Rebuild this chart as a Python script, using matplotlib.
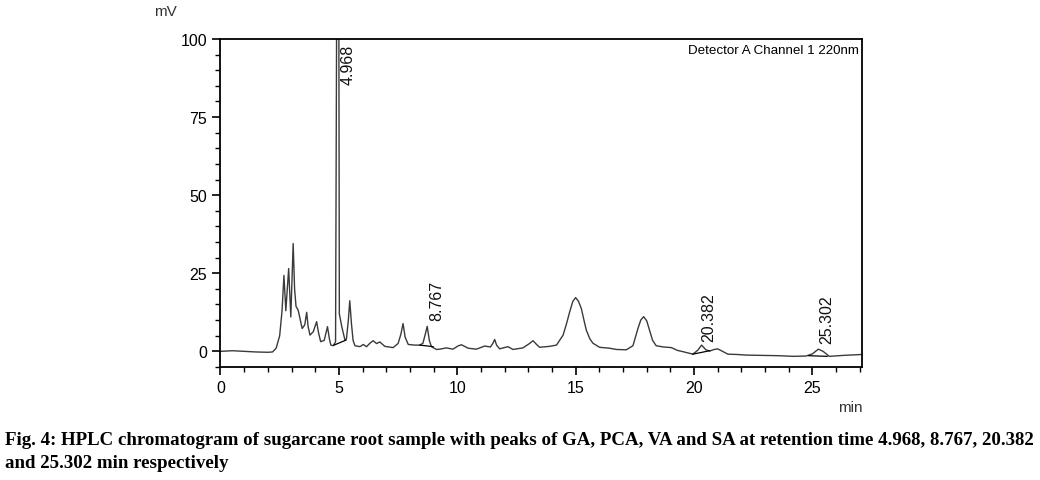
import numpy as np
import matplotlib
matplotlib.use('Agg')
from matplotlib import pyplot as plt
from matplotlib.ticker import MultipleLocator

# trace points (time in min, signal in mV)
time = [0, 0.5, 1.0, 1.5, 2.0, 2.2, 2.35, 2.5, 2.6, 2.68, 2.76, 2.88, 2.97, 3.07, 3.13, 3.19,
        3.28, 3.45, 3.56, 3.64, 3.70, 3.78, 3.92, 4.06, 4.14, 4.23, 4.38, 4.52, 4.60, 4.66,
        4.76, 4.86, 4.968, 5.02, 5.12, 5.26, 5.32, 5.40, 5.46, 5.53, 5.60, 5.68, 5.89, 6.03,
        6.17, 6.31, 6.45, 6.59, 6.73, 6.94, 7.29, 7.50, 7.62, 7.71, 7.80, 7.93, 8.20, 8.42,
        8.55, 8.65, 8.73, 8.82, 8.91, 9.12, 9.26, 9.54, 9.82, 10.05, 10.18, 10.46, 10.81,
        11.16, 11.40, 11.50, 11.58, 11.66, 11.79, 12.14, 12.35, 12.77, 13.05, 13.20, 13.35,
        13.48, 13.90, 14.19, 14.47, 14.62, 14.75, 14.88, 15.0, 15.12, 15.24, 15.35, 15.45,
        15.60, 15.73, 16.01, 16.43, 16.72, 17.14, 17.42, 17.63, 17.75, 17.87, 18.0, 18.12,
        18.25, 18.40, 18.70, 19.04, 19.30, 19.53, 19.95, 20.15, 20.32, 20.50, 20.66, 20.85,
        21.0, 21.2, 21.43, 21.8, 22.2, 22.9, 23.6, 24.2, 24.73, 25.0, 25.25, 25.45, 25.71,
        26.3, 27.1]
signal = [0.0, 0.2, 0.0, -0.2, -0.3, -0.2, 1.0, 5.0, 13, 24.3, 13, 26.5, 11, 34.5, 20, 14.4,
          13.2, 7.3, 8.5, 12.5, 8, 5.2, 6.3, 9.5, 6, 3.1, 3.5, 7.9, 4, 2.0,
          1.8, 3.0, 250, 12, 8, 3.5, 4.0, 10, 16.2, 9, 3.5, 1.8, 1.5, 2.2,
          1.5, 2.6, 3.4, 2.5, 3.0, 1.6, 1.2, 2.5, 5.5, 8.9, 4.5, 2.2, 2.0, 2.0,
          2.6, 5.5, 8.0, 3.5, 1.5, 0.6, 0.7, 1.1, 0.7, 1.8, 2.1, 1.0, 0.7,
          1.7, 1.4, 2.5, 3.8, 2.0, 0.8, 1.5, 0.6, 1.1, 2.5, 3.4, 2.2,
          1.3, 1.6, 2.0, 5.2, 9, 12.7, 16, 17.2, 16, 13.7, 10, 6.8,
          4.0, 2.6, 1.3, 1.0, 0.6, 0.5, 1.8, 7.3, 10.0, 11.1, 9.8, 6.8,
          3.5, 1.8, 1.4, 1.2, 0.3, -0.1, -0.9, 0.3, 2.0, 0.5, 0.1, 0.6,
          0.8, 0.0, -0.9, -1.0, -1.2, -1.3, -1.4, -1.6, -1.5, -0.8, 0.7, 0.0, -1.6,
          -1.3, -1.0]

# integration baselines under the labelled peaks
base_t = [(4.80, 5.30), (8.42, 8.98), (19.95, 20.66), (24.85, 25.62)]
base_v = [(2.0, 3.6), (2.0, 1.5), (-0.9, 0.2), (-1.4, -1.6)]

peak_labels = ['4.968', '8.767', '20.382', '25.302']
label_x = [5.37, 9.12, 20.63, 25.6]
label_y = [85.5, 9.9, 3.2, 2.6]

fig = plt.figure(figsize=(10.4, 4.81), dpi=100)
ax = fig.add_axes([0.212, 0.235, 0.617, 0.682])

ax.plot(time, signal, color='#3a3a3a', lw=1.0)
for (t0, t1), (v0, v1) in zip(base_t, base_v):
    ax.plot([t0, t1], [v0, v1], color='black', lw=0.9)

for lab, x, y in zip(peak_labels, label_x, label_y):
    ax.text(x, y, lab, rotation=90, ha='center', va='bottom', fontsize=11.5,
            family='Liberation Sans', color='#101010')

ax.set_xlim(0, 27.1)
ax.set_ylim(-5, 100)
ax.set_xticks([0, 5, 10, 15, 20, 25])
ax.set_yticks([0, 25, 50, 75, 100])
ax.xaxis.set_minor_locator(MultipleLocator(1))
ax.yaxis.set_minor_locator(MultipleLocator(5))
ax.tick_params(which='major', direction='out', length=6, width=1.2, labelsize=11.5, colors='black')
ax.tick_params(which='minor', direction='out', length=3.5, width=1.0)
for lbl in ax.get_xticklabels() + ax.get_yticklabels():
    lbl.set_family('Liberation Sans')
for sp in ax.spines.values():
    sp.set_linewidth(1.3)

ax.text(0.995, 0.985, 'Detector A Channel 1 220nm', transform=ax.transAxes, ha='right', va='top',
        fontsize=9.6, family='Liberation Sans')
fig.text(165 / 1040, 1 - 12 / 481, 'mV', ha='center', va='center', fontsize=11,
         family='Liberation Sans', color='#333333')
fig.text(850 / 1040, 1 - 408 / 481, 'min', ha='center', va='center', fontsize=11,
         family='Liberation Sans', color='#333333')

fig.text(5 / 1040, 1 - 441 / 481, 'Fig. 4: HPLC chromatogram of sugarcane root sample with peaks of GA, PCA, VA and SA at retention time 4.968, 8.767, 20.382',
         ha='left', va='center', fontsize=13.6, family='Liberation Serif', weight='bold')
fig.text(5 / 1040, 1 - 464 / 481, 'and 25.302 min respectively',
         ha='left', va='center', fontsize=13.6, family='Liberation Serif', weight='bold')

fig.savefig('out.png', dpi=100)
